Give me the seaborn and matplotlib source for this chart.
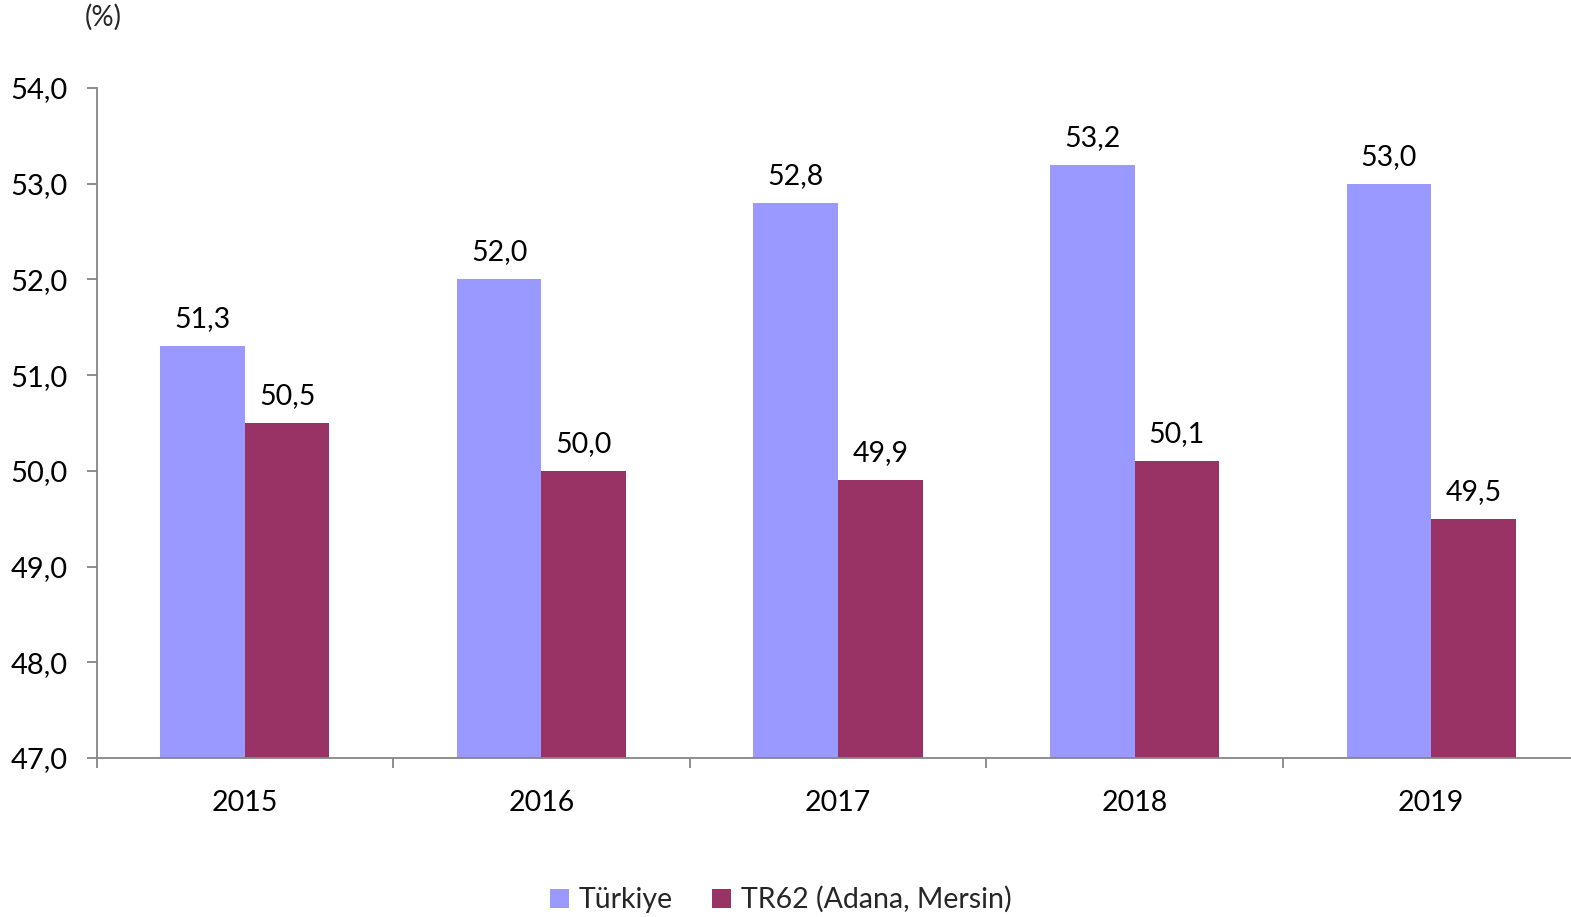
import matplotlib
matplotlib.use("Agg")
import matplotlib.pyplot as plt
import seaborn as sns
import pandas as pd
from matplotlib.ticker import FixedLocator

years = ["2015", "2016", "2017", "2018", "2019"]
turkiye = [51.3, 52.0, 52.8, 53.2, 53.0]
tr62 = [50.5, 50.0, 49.9, 50.1, 49.5]
series_names = ["Türkiye", "TR62 (Adana, Mersin)"]
y_ticks = [47, 48, 49, 50, 51, 52, 53, 54]

df = pd.DataFrame({
    "year": years * 2,
    "value": turkiye + tr62,
    "series": [series_names[0]] * len(years) + [series_names[1]] * len(years),
})

sns.set_theme(style="white")
plt.rcParams["font.family"] = ["Lato", "DejaVu Sans"]

fig = plt.figure(figsize=(15.71, 9.17), dpi=100)
ax = fig.add_axes([96.5 / 1571, 159 / 917, 1483 / 1571, 670 / 917])

palette = {series_names[0]: "#9999FF", series_names[1]: "#993366"}
sns.barplot(data=df, x="year", y="value", hue="series", palette=palette,
            width=0.57, gap=0, saturation=1, ax=ax, legend=True, linewidth=0)

ax.set_ylim(47, 54)
ax.set_xlim(-0.5, 4.5)
ax.set_yticks(y_ticks)
ax.set_yticklabels([f"{v:.1f}".replace(".", ",") for v in y_ticks])
ax.set_xlabel("")
ax.set_ylabel("")

grey = "#868686"
for s in ["top", "right"]:
    ax.spines[s].set_visible(False)
for s in ["left", "bottom"]:
    ax.spines[s].set_color(grey)
    ax.spines[s].set_linewidth(1.3)

ax.tick_params(axis="y", which="major", left=True, length=7, width=1.3, color=grey,
               pad=14, labelsize=21, labelcolor="black")
ax.tick_params(axis="x", which="major", bottom=False, length=0, pad=23,
               labelsize=20.5, labelcolor="black")
ax.xaxis.set_minor_locator(FixedLocator([-0.5, 0.5, 1.5, 2.5, 3.5]))
ax.tick_params(axis="x", which="minor", bottom=True, length=7, width=1.3, color=grey)

for cont in ax.containers:
    vals = cont.datavalues
    ax.bar_label(cont, labels=[f"{v:.1f}".replace(".", ",") for v in vals],
                 padding=10, fontsize=20.5, color="black")

fig.text(103 / 1571, 1 - 17 / 917, "(%)", ha="center", va="center", fontsize=20)

handles, labels = ax.get_legend_handles_labels()
ax.get_legend().remove()
fig.legend(handles, labels, loc="center", bbox_to_anchor=(0.497, 0.019), ncol=2,
           frameon=False, fontsize=20.5, handlelength=0.65, handleheight=0.65,
           handletextpad=0.35, columnspacing=1.4)

fig.savefig("out.png", dpi=100)
